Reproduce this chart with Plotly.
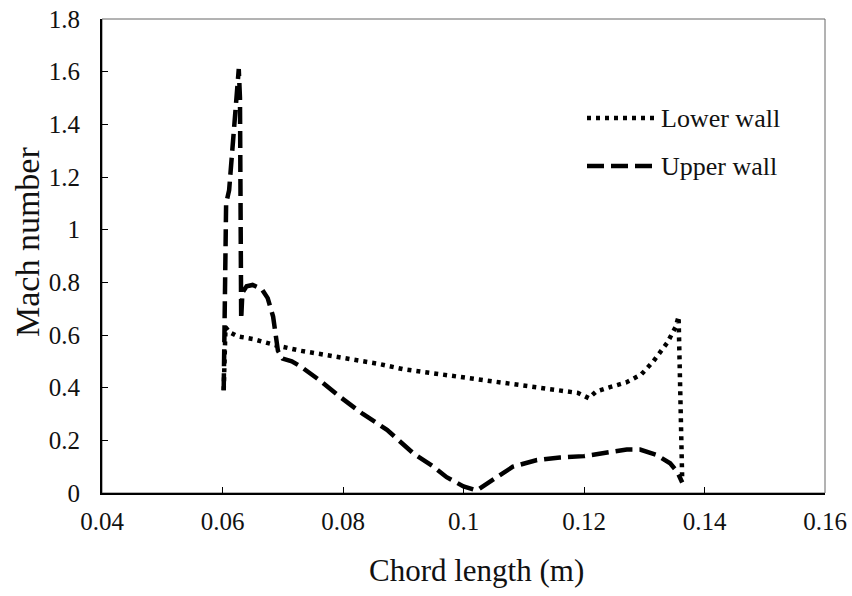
import plotly.graph_objects as go

# ---- data ----
lower_x = [0.0602, 0.0605, 0.0612, 0.0625, 0.0650, 0.0690, 0.0730, 0.0770, 0.0820,
           0.0860, 0.0900, 0.0950, 0.1000, 0.1050, 0.1100, 0.1150, 0.1190, 0.1208,
           0.1220, 0.1240, 0.1270, 0.1295, 0.1315, 0.1338, 0.1352, 0.1357, 0.1360, 0.1363]
lower_y = [0.39, 0.63, 0.61, 0.595, 0.585, 0.56, 0.54, 0.525, 0.505,
           0.49, 0.47, 0.455, 0.44, 0.425, 0.41, 0.395, 0.38, 0.36,
           0.385, 0.40, 0.42, 0.45, 0.50, 0.57, 0.63, 0.67, 0.35, 0.05]

upper_x = [0.0602, 0.0604, 0.0606, 0.0611, 0.0616, 0.0621, 0.0625, 0.0627, 0.0629,
           0.0630, 0.0631, 0.0631, 0.0633, 0.0640, 0.0650, 0.0665, 0.0675, 0.0684,
           0.0692, 0.0700, 0.0715, 0.0730, 0.0760, 0.0795, 0.0833, 0.0873, 0.0917,
           0.0950, 0.0972, 0.1000, 0.1022, 0.1049, 0.1082, 0.1122, 0.1160, 0.1200,
           0.1240, 0.1271, 0.1293, 0.1320, 0.1343, 0.1355, 0.1363]
upper_y = [0.39, 0.80, 1.10, 1.15, 1.28, 1.42, 1.56, 1.61, 1.50,
           1.10, 0.80, 0.66, 0.76, 0.785, 0.79, 0.775, 0.74, 0.67,
           0.54, 0.51, 0.50, 0.48, 0.43, 0.365, 0.30, 0.24, 0.15,
           0.10, 0.06, 0.025, 0.01, 0.05, 0.10, 0.125, 0.135, 0.14,
           0.155, 0.165, 0.165, 0.145, 0.113, 0.08, 0.04]

series_names = ["Lower wall", "Upper wall"]
x_title = "Chord length (m)"
y_title = "Mach number"
x_ticks = [0.04, 0.06, 0.08, 0.10, 0.12, 0.14, 0.16]
x_ticklabels = ["0.04", "0.06", "0.08", "0.1", "0.12", "0.14", "0.16"]
y_ticks = [0, 0.2, 0.4, 0.6, 0.8, 1.0, 1.2, 1.4, 1.6, 1.8]
y_ticklabels = ["0", "0.2", "0.4", "0.6", "0.8", "1", "1.2", "1.4", "1.6", "1.8"]

FONT = "Liberation Serif, Times New Roman, serif"
DOT = "4px,5px"
DASH = "17px,7px"
LW = 4.5

fig = go.Figure()
fig.add_trace(go.Scatter(x=lower_x, y=lower_y, mode="lines", name=series_names[0],
                         line=dict(color="black", width=LW, dash=DOT), showlegend=False))
fig.add_trace(go.Scatter(x=upper_x, y=upper_y, mode="lines", name=series_names[1],
                         line=dict(color="black", width=LW, dash=DASH), showlegend=False))

W, H = 852, 596
L, R, T, B = 102, 27, 19, 103
pw, ph = W - L - R, H - T - B

def px(x):
    return (x - L) / pw

def py(y):
    return (H - B - y) / ph

# plot frame (thin grey top/right)
fig.add_shape(type="rect", xref="paper", yref="paper", x0=0, y0=0, x1=1, y1=1,
              line=dict(color="#666666", width=1), layer="below")

# manual legend
legend_rows = [(series_names[0], DOT, 118), (series_names[1], DASH, 166)]
for name, dash, yy in legend_rows:
    fig.add_shape(type="line", xref="paper", yref="paper",
                  x0=px(587), x1=px(654), y0=py(yy), y1=py(yy),
                  line=dict(color="black", width=LW, dash=dash))
    fig.add_annotation(xref="paper", yref="paper", x=px(659), y=py(yy),
                       text=name, showarrow=False, xanchor="left", yanchor="middle",
                       font=dict(family=FONT, size=26, color="#111111"))

# axis titles
fig.add_annotation(xref="paper", yref="paper", x=px(476), y=py(570), text=x_title,
                   showarrow=False, xanchor="center", yanchor="middle",
                   font=dict(family=FONT, size=31, color="#111111"))
fig.add_annotation(xref="paper", yref="paper", x=px(27), y=py(242), text=y_title,
                   showarrow=False, xanchor="center", yanchor="middle", textangle=-90,
                   font=dict(family=FONT, size=34, color="#111111"))

fig.update_layout(
    width=W, height=H,
    margin=dict(l=L, r=R, t=T, b=B, autoexpand=False),
    paper_bgcolor="white", plot_bgcolor="white",
    font=dict(family=FONT, size=25, color="#111111"),
    showlegend=False,
)
fig.update_xaxes(range=[0.04, 0.16], tickvals=x_ticks, ticktext=x_ticklabels,
                 ticks="inside", ticklen=6, tickcolor="black", tickwidth=1,
                 showline=True, linecolor="black", linewidth=2, showgrid=False,
                 zeroline=False, tickfont=dict(size=25), ticklabelstandoff=5)
fig.update_yaxes(range=[0, 1.8], tickvals=y_ticks, ticktext=y_ticklabels,
                 ticks="inside", ticklen=6, tickcolor="black", tickwidth=1,
                 showline=True, linecolor="black", linewidth=2, showgrid=False,
                 zeroline=False, tickfont=dict(size=25), ticklabelstandoff=15)

fig.write_html("out.html")
